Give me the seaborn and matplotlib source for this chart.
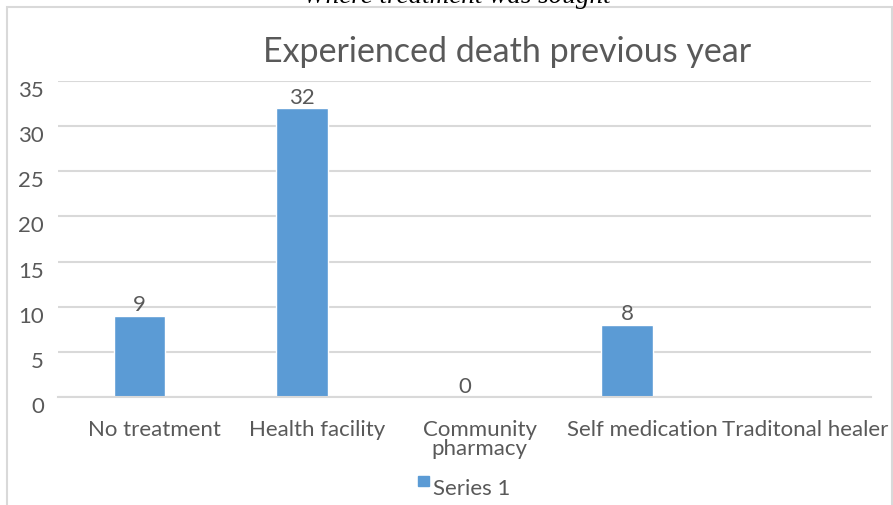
import numpy as np
import pandas as pd
import matplotlib
matplotlib.use("Agg")
import matplotlib.pyplot as plt
import matplotlib.transforms as mtransforms
from matplotlib.patches import Rectangle
import seaborn as sns

categories = ["No treatment", "Health facility", "Community\npharmacy",
              "Self medication", "Traditonal healer"]
values = [9, 32, 0, 8, np.nan]
series_name = "Series 1"
title = "Experienced death previous year"
caption = "Where treatment was sought"
yticks = [0, 5, 10, 15, 20, 25, 30, 35]

sns.set_theme(style="white")
plt.rcParams["font.family"] = ["Lato", "DejaVu Sans"]

TEXT = "#595959"
GRID = "#d9d9d9"
BAR = "#5b9bd5"
FS = 16

W, H = 893, 506
fig = plt.figure(figsize=(W / 100, H / 100), dpi=100)

# chart frame
fig.patches.append(Rectangle((7 / W, -0.05), (892 - 7) / W, (H - 8) / H + 0.05,
                             transform=fig.transFigure, fill=False,
                             edgecolor=GRID, linewidth=1.5))

ax = fig.add_axes([58 / W, (H - 398) / H, (871 - 58) / W, (398 - 82) / H])

df = pd.DataFrame({"category": categories, "value": values})
sns.barplot(data=df, x="category", y="value", color=BAR, saturation=1,
            width=0.315, ax=ax, order=categories)

ax.set_ylim(0, 35)
ax.set_xlim(-0.5, len(categories) - 0.5)
ax.set_yticks(yticks)
ax.yaxis.grid(True, color=GRID, linewidth=1.5)
ax.set_axisbelow(True)
for s in ["top", "right", "left"]:
    ax.spines[s].set_visible(False)
ax.spines["bottom"].set_color(GRID)
ax.spines["bottom"].set_linewidth(1.5)
ax.tick_params(axis="both", length=0, colors=TEXT, labelsize=FS)
ax.tick_params(axis="y", pad=10)
ax.tick_params(axis="x", pad=16)
ax.set_xlabel("")
ax.set_ylabel("")
for lab in ax.get_yticklabels():
    lab.set_transform(lab.get_transform() +
                      mtransforms.ScaledTranslation(0, -7 / 100, fig.dpi_scale_trans))
for lab in ax.get_xticklabels():
    lab.set_linespacing(0.9)
    lab.set_verticalalignment("top")
    lab.set_transform(lab.get_transform() +
                      mtransforms.ScaledTranslation(15 / 100, 0, fig.dpi_scale_trans))

# value labels above each bar
for i, v in enumerate(values):
    if np.isnan(v):
        continue
    ax.annotate(f"{int(v)}", (i, v), xytext=(0, 1), textcoords="offset points",
                ha="center", va="bottom", fontsize=FS, color=TEXT)

fig.text(507 / W, 1 - 52 / H, title, ha="center", va="center",
         fontsize=24.5, color=TEXT)
fig.text(457 / W, 1 - 3 / H, caption, ha="center", va="baseline",
         fontsize=19.5, style="italic", family="Liberation Serif", color="black")

# legend
fig.patches.append(Rectangle((418 / W, 1 - 487 / H), 11 / W, 10 / H,
                             transform=fig.transFigure, color=BAR))
fig.text(433 / W, 1 - 489 / H, series_name, ha="left", va="center",
         fontsize=FS, color=TEXT)

fig.savefig("out.png", dpi=100)
